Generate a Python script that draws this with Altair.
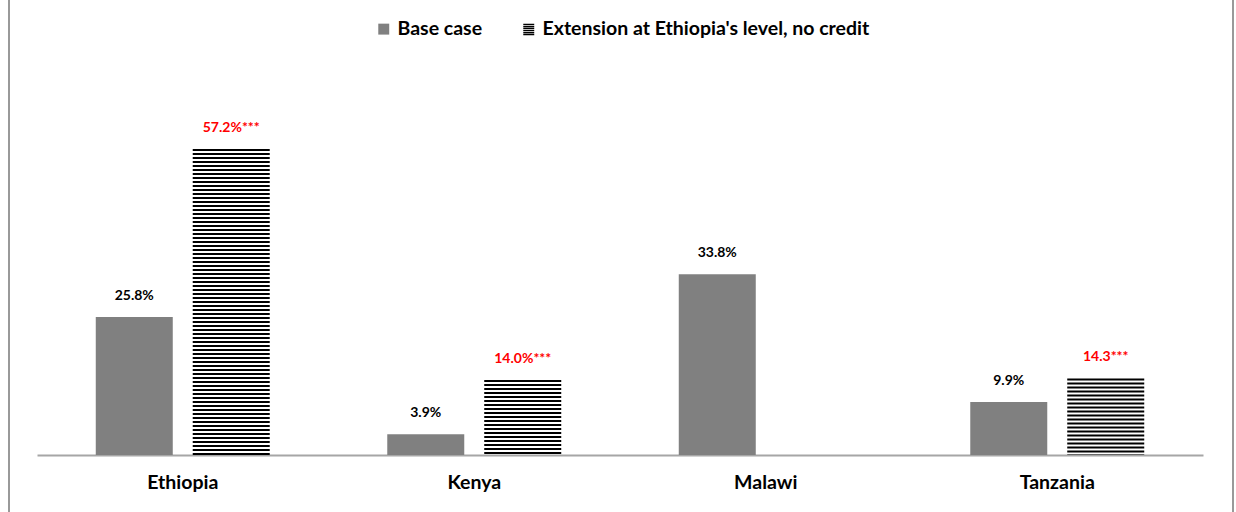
import altair as alt
import pandas as pd

countries = ["Ethiopia", "Kenya", "Malawi", "Tanzania"]
series_names = ["Base case", "Extension at Ethiopia's level, no credit"]
base_values = [25.8, 3.9, 33.8, 9.9]
base_labels = ["25.8%", "3.9%", "33.8%", "9.9%"]
ext_values = [57.2, 14.0, None, 14.3]
ext_labels = ["57.2%***", "14.0%***", None, "14.3***"]

rows = []
for c, v, l in zip(countries, base_values, base_labels):
    rows.append({"country": c, "series": series_names[0], "value": v, "label": l})
for c, v, l in zip(countries, ext_values, ext_labels):
    if v is not None:
        rows.append({"country": c, "series": series_names[1], "value": v, "label": l})
df = pd.DataFrame(rows)

FONT = "Lato"
BAR_W = 77

x = alt.X(
    "country:N",
    sort=countries,
    scale=alt.Scale(paddingInner=0, paddingOuter=0),
    axis=alt.Axis(
        title=None, labelAngle=0, ticks=False, domainColor="#a6a6a6",
        domainWidth=2, labelFont=FONT, labelFontWeight="bold",
        labelFontSize=19.5, labelColor="black", labelPadding=18,
    ),
)
x_off = alt.XOffset(
    "series:N",
    sort=series_names,
    scale=alt.Scale(domain=series_names, paddingInner=0.206, paddingOuter=0.606),
)
y = alt.Y("value:Q", scale=alt.Scale(domain=[0, 60]), axis=None)

base = alt.Chart(df)

base_bars = base.transform_filter(
    alt.datum.series == series_names[0]
).mark_bar(color="#808080").encode(x=x, xOffset=x_off, y=y)

# horizontal stripes: a wide vertical rule with a 2px on / 2px off dash
ext_bars = base.transform_filter(
    alt.datum.series == series_names[1]
).mark_rule(color="black", strokeWidth=BAR_W, strokeDash=[2, 2], strokeCap="butt").encode(
    x=x, xOffset=x_off, y=y, y2=alt.datum(0)
)

labels = base.mark_text(
    font=FONT, fontWeight="bold", fontSize=14, baseline="middle", dy=-21
).encode(
    x=x, xOffset=x_off, y=y, text="label:N",
    color=alt.condition(
        alt.datum.series == series_names[0], alt.value("black"), alt.value("#ff0000")
    ),
)

stripe_path = (
    "M-1,-1H1V-0.74H-1Z M-1,-0.62H1V-0.36H-1Z M-1,-0.24H1V0.02H-1Z "
    "M-1,0.14H1V0.4H-1Z M-1,0.52H1V0.78H-1Z M-1,0.9H1V1.1H-1Z"
)
# zero-size points whose only job is to carry the legend
legend_layer = base.mark_point(filled=True, size=0, opacity=1).encode(
    x=x, xOffset=x_off, y=y,
    color=alt.Color(
        "series:N",
        scale=alt.Scale(domain=series_names, range=["#808080", "black"]),
        legend=alt.Legend(
            title=None, orient="none", direction="horizontal",
            legendX=337, legendY=-115, symbolSize=120,
            symbolStrokeWidth=0, labelFont=FONT, labelFontWeight="bold",
            labelFontSize=19.5, labelColor="black", labelOffset=4,
            columnPadding=36, labelLimit=600, symbolOpacity=1,
        ),
    ),
    shape=alt.Shape(
        "series:N",
        scale=alt.Scale(domain=series_names, range=["square", stripe_path]),
    ),
)

frame_left = base.mark_rule(color="#999999", strokeWidth=2).encode(
    x=alt.value(-28), y=alt.value(-140), y2=alt.value(400)
)
frame_right = base.mark_rule(color="#999999", strokeWidth=2).encode(
    x=alt.value(1196), y=alt.value(-140), y2=alt.value(400)
)

chart = alt.layer(
    base_bars, ext_bars, labels, legend_layer, frame_left, frame_right
).properties(
    width=1166, height=321,
    background="white",
    autosize=alt.AutoSizeParams(type="none"),
    padding={"left": 37, "top": 134, "right": 33, "bottom": 57},
).configure_view(stroke=None)

chart.save("out.html", embed_options={"renderer": "svg", "actions": False})
